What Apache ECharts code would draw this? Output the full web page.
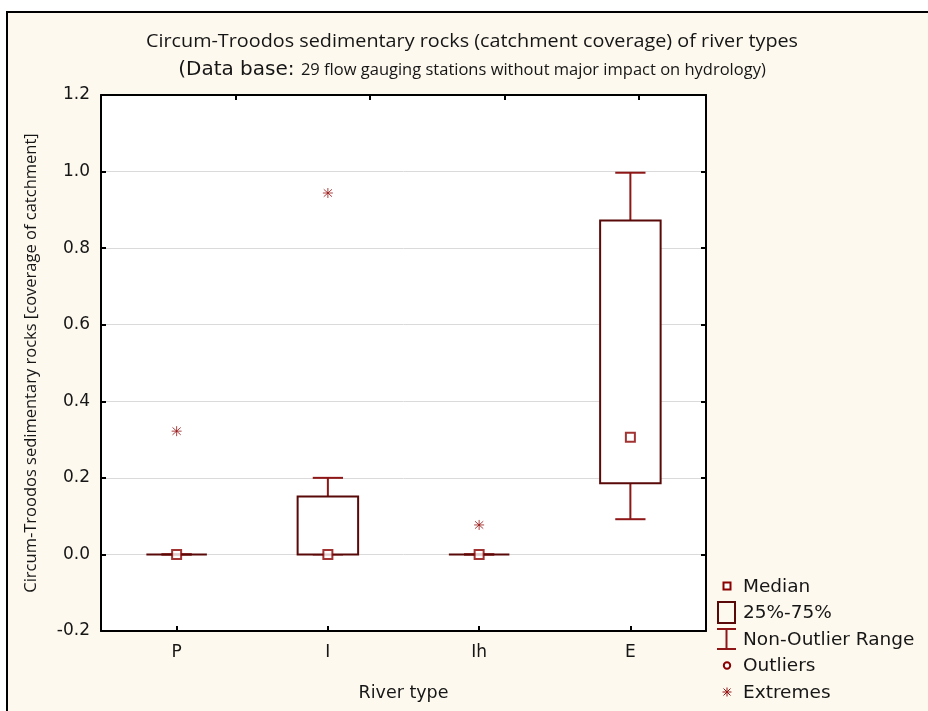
<!DOCTYPE html>
<html>
<head>
<meta charset="utf-8">
<script src="https://cdn.jsdelivr.net/npm/echarts@6/dist/echarts.min.js"></script>
<style>
  html, body { margin: 0; padding: 0; background: #ffffff; }
  #chart { width: 928px; height: 711px; }
</style>
</head>
<body>
<div id="chart"></div>
<script>
// ---- data ----
const categories = ['P', 'I', 'Ih', 'E'];
const whiskerMin = [0, 0, 0, 0.092];
const q1Values   = [0, 0, 0, 0.186];
const medians    = [0, 0, 0, 0.306];
const q3Values   = [0, 0.151, 0, 0.872];
const whiskerMax = [0, 0.200, 0, 0.997];
const extremeCats = [0, 1, 2];
const extremeVals = [0.322, 0.944, 0.077];
const yMin = -0.2, yMax = 1.2, yStep = 0.2;

const legendItems = ['Median', '25%-75%', 'Non-Outlier Range', 'Outliers', 'Extremes'];

const titleLine1 = 'Circum-Troodos sedimentary rocks (catchment coverage) of river types';
const titleLine2a = '(Data base: ';
const titleLine2b = '29 flow gauging stations without major impact on hydrology)';
const yAxisName = 'Circum-Troodos sedimentary rocks [coverage of catchment]';
const xAxisName = 'River type';

// ---- styles ----
const BOX_COLOR = '#5a0909';
const WHISKER_COLOR = '#8e1616';
const MEDIAN_COLOR = '#8b0000';
const EXTREME_COLOR = '#961414';
const CREAM = '#fdf9ee';
const TXT = '#161616';
const SANS = '"DejaVu Sans", "Liberation Sans", sans-serif';
const HUMAN = '"Open Sans", Lato, sans-serif';
const ASTERISK = 'path://M5,0L5,10M0.5,5L9.5,5M1.3,1.3L8.7,8.7M1.3,8.7L8.7,1.3';

const boxData = categories.map((c, i) => [i, whiskerMin[i], q1Values[i], medians[i], q3Values[i], whiskerMax[i]]);
const medianData = categories.map((c, i) => [i, medians[i]]);
const extremeData = extremeCats.map((c, i) => [c, extremeVals[i]]);

const chart = echarts.init(document.getElementById('chart'), null, { renderer: 'canvas' });

function renderBox(params, api) {
  const x = api.value(0);
  const band = api.size([1, 0])[0];
  const boxW = band * 0.4;
  const capW = band * 0.2;
  const pMin = api.coord([x, api.value(1)]);
  const pQ1 = api.coord([x, api.value(2)]);
  const pQ3 = api.coord([x, api.value(4)]);
  const pMax = api.coord([x, api.value(5)]);
  const cx = pQ1[0];
  const wStyle = { stroke: WHISKER_COLOR, lineWidth: 2 };
  const children = [
    { type: 'line', shape: { x1: cx, y1: pQ3[1], x2: cx, y2: pMax[1] }, style: wStyle },
    { type: 'line', shape: { x1: cx, y1: pQ1[1], x2: cx, y2: pMin[1] }, style: wStyle },
    { type: 'line', shape: { x1: cx - capW / 2, y1: pMax[1], x2: cx + capW / 2, y2: pMax[1] }, style: wStyle },
    { type: 'line', shape: { x1: cx - capW / 2, y1: pMin[1], x2: cx + capW / 2, y2: pMin[1] }, style: wStyle },
    { type: 'rect', shape: { x: cx - boxW / 2, y: pQ3[1], width: boxW, height: pQ1[1] - pQ3[1] },
      style: { fill: '#ffffff', stroke: BOX_COLOR, lineWidth: 2 } }
  ];
  return { type: 'group', children: children };
}

// legend built with graphic elements
const LX = 727, LY0 = 586, LDY = 26.5, LTX = 743;
const legendGraphics = [];
legendItems.forEach((name, i) => {
  legendGraphics.push({ type: 'text', x: LTX, y: LY0 + i * LDY + 1, z: 10,
    style: { text: name, font: '18.5px ' + SANS, fill: TXT,
      align: 'left', verticalAlign: 'middle' } });
});
const ey = LY0 + 4 * LDY;
legendGraphics.push(
  { type: 'rect', z: 10, shape: { x: LX - 3.5, y: LY0 - 3.5, width: 7, height: 7 },
    style: { fill: '#ffffff', stroke: MEDIAN_COLOR, lineWidth: 2 } },
  { type: 'rect', z: 10, shape: { x: LX - 9, y: LY0 + LDY - 10.5, width: 17, height: 21 },
    style: { fill: 'transparent', stroke: BOX_COLOR, lineWidth: 2 } },
  { type: 'line', z: 10, shape: { x1: LX - 10, y1: LY0 + 2 * LDY - 10, x2: LX + 9, y2: LY0 + 2 * LDY - 10 }, style: { stroke: WHISKER_COLOR, lineWidth: 2 } },
  { type: 'line', z: 10, shape: { x1: LX - 0.5, y1: LY0 + 2 * LDY - 10, x2: LX - 0.5, y2: LY0 + 2 * LDY + 10 }, style: { stroke: WHISKER_COLOR, lineWidth: 2 } },
  { type: 'line', z: 10, shape: { x1: LX - 10, y1: LY0 + 2 * LDY + 10, x2: LX + 9, y2: LY0 + 2 * LDY + 10 }, style: { stroke: WHISKER_COLOR, lineWidth: 2 } },
  { type: 'circle', z: 10, shape: { cx: LX, cy: LY0 + 3 * LDY, r: 3.2 },
    style: { fill: '#ffffff', stroke: MEDIAN_COLOR, lineWidth: 2 } },
  { type: 'line', z: 10, shape: { x1: LX, y1: ey - 4.5, x2: LX, y2: ey + 4.5 }, style: { stroke: EXTREME_COLOR, lineWidth: 1 } },
  { type: 'line', z: 10, shape: { x1: LX - 4.5, y1: ey, x2: LX + 4.5, y2: ey }, style: { stroke: EXTREME_COLOR, lineWidth: 1 } },
  { type: 'line', z: 10, shape: { x1: LX - 3.5, y1: ey - 3.5, x2: LX + 3.5, y2: ey + 3.5 }, style: { stroke: EXTREME_COLOR, lineWidth: 1 } },
  { type: 'line', z: 10, shape: { x1: LX - 3.5, y1: ey + 3.5, x2: LX + 3.5, y2: ey - 3.5 }, style: { stroke: EXTREME_COLOR, lineWidth: 1 } }
);

const option = {
  animation: false,
  backgroundColor: 'transparent',
  graphic: [
    { type: 'rect', z: -10, silent: true, shape: { x: 7, y: 12, width: 940, height: 720 },
      style: { fill: CREAM, stroke: '#000000', lineWidth: 2 } },
    { type: 'rect', z: -9, silent: true, shape: { x: 101, y: 95, width: 605, height: 536 },
      style: { fill: '#ffffff' } },
    { type: 'text', x: 472, y: 42, z: 10, scaleX: 1.1,
      style: { text: titleLine1, font: '18px ' + HUMAN, fill: TXT,
        align: 'center', verticalAlign: 'middle' } },
    { type: 'text', z: 10, x: 472, y: 70,
      style: {
        text: '{a|' + titleLine2a + '}{b|' + titleLine2b + '}',
        align: 'center', verticalAlign: 'middle',
        rich: {
          a: { font: '20px ' + SANS, fill: TXT },
          b: { font: '16.5px ' + HUMAN, fill: TXT }
        }
      } }
  ].concat(legendGraphics),
  grid: { left: 101, right: 222, top: 95, bottom: 80, containLabel: false },
  xAxis: [
    {
      type: 'category', data: categories, position: 'bottom',
      axisLine: { show: true, onZero: false, lineStyle: { color: '#000', width: 2 } },
      axisTick: { show: true, inside: true, alignWithLabel: true, length: 5, lineStyle: { color: '#000', width: 2 } },
      axisLabel: { margin: 13, fontSize: 17, color: TXT, fontFamily: SANS },
      splitLine: { show: false },
      name: xAxisName, nameLocation: 'middle', nameGap: 53,
      nameTextStyle: { fontSize: 17.5, color: TXT, fontFamily: SANS }
    },
    {
      type: 'value', position: 'top', min: 0, max: 9, interval: 2,
      axisLine: { show: true, onZero: false, lineStyle: { color: '#000', width: 2 } },
      axisTick: { show: true, inside: true, length: 5, lineStyle: { color: '#000', width: 2 } },
      axisLabel: { show: false }, splitLine: { show: false }
    }
  ],
  yAxis: [
    {
      type: 'value', min: yMin, max: yMax, interval: yStep, position: 'left',
      axisLine: { show: true, onZero: false, lineStyle: { color: '#000', width: 2 } },
      axisTick: { show: true, inside: true, length: 5, lineStyle: { color: '#000', width: 2 } },
      axisLabel: { margin: 11, fontSize: 17, color: TXT, fontFamily: SANS,
        formatter: v => (Math.round(v * 10) / 10).toFixed(1) },
      splitLine: { show: true, lineStyle: { color: '#dadada', width: 1 } },
      name: yAxisName, nameLocation: 'middle', nameGap: 61, nameRotate: 90,
      nameTextStyle: { fontSize: 16.5, color: TXT, fontFamily: HUMAN }
    },
    {
      type: 'value', min: yMin, max: yMax, interval: yStep, position: 'right',
      axisLine: { show: true, onZero: false, lineStyle: { color: '#000', width: 2 } },
      axisTick: { show: true, inside: true, length: 5, lineStyle: { color: '#000', width: 2 } },
      axisLabel: { show: false }, splitLine: { show: false }
    }
  ],
  series: [
    {
      type: 'custom', name: 'box', xAxisIndex: 0, yAxisIndex: 0,
      data: boxData, renderItem: renderBox, encode: { x: 0, y: [1, 2, 3, 4, 5] }, z: 3
    },
    {
      type: 'scatter', name: 'Median', xAxisIndex: 0, yAxisIndex: 0, data: medianData,
      symbol: 'rect', symbolSize: 9, z: 5,
      itemStyle: { color: '#ffffff', borderColor: MEDIAN_COLOR, borderWidth: 2 }
    },
    {
      type: 'scatter', name: 'Extremes', xAxisIndex: 0, yAxisIndex: 0, data: extremeData,
      symbol: ASTERISK, symbolSize: 10, z: 5,
      itemStyle: { color: 'none', borderColor: EXTREME_COLOR, borderWidth: 1 }
    }
  ]
};
chart.setOption(option);
</script>
</body>
</html>
